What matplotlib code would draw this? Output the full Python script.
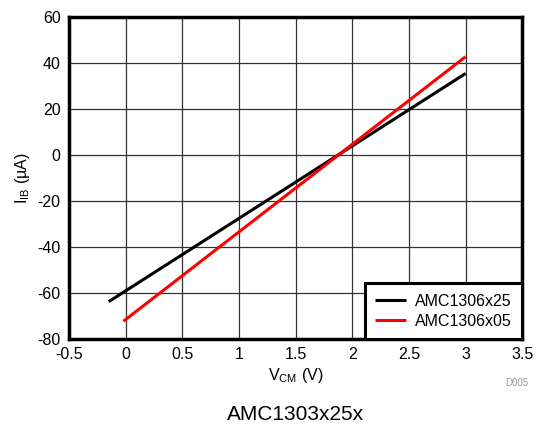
import matplotlib.pyplot as plt

plt.rcParams['font.family'] = ['Liberation Sans', 'DejaVu Sans']
plt.rcParams['axes.unicode_minus'] = False

# Data
vcm_x25 = [-0.15, 3.0]
iib_x25 = [-63.8, 35.5]
vcm_x05 = [-0.02, 3.0]
iib_x05 = [-72.3, 42.8]

xticks = [-0.5, 0, 0.5, 1, 1.5, 2, 2.5, 3, 3.5]
xticklabels = ['-0.5', '0', '0.5', '1', '1.5', '2', '2.5', '3', '3.5']
yticks = [-80, -60, -40, -20, 0, 20, 40, 60]

fig = plt.figure(figsize=(5.48, 4.29), dpi=100)
ax = fig.add_axes([0.126, 0.21, 0.827, 0.75])

ax.plot(vcm_x25, iib_x25, color='black', lw=2.2, label='AMC1306x25', solid_capstyle='butt', zorder=3)
ax.plot(vcm_x05, iib_x05, color='#ff0000', lw=2.2, label='AMC1306x05', solid_capstyle='butt', zorder=3)

ax.set_xlim(-0.5, 3.5)
ax.set_ylim(-80, 60)
ax.set_xticks(xticks)
ax.set_xticklabels(xticklabels)
ax.set_yticks(yticks)
ax.tick_params(length=0, labelsize=11.5, pad=6)
ax.grid(True, color='#333333', lw=0.9)
ax.set_axisbelow(True)
for s in ax.spines.values():
    s.set_linewidth(2.5)

ax.set_xlabel('V$_{\\mathregular{CM}}$ (V)', fontsize=11.5, labelpad=3)
ax.set_ylabel('I$_{\\mathregular{IB}}$ (µA)', fontsize=11.5, labelpad=4)

leg = ax.legend(loc='lower right', fontsize=11.5, frameon=True, fancybox=False,
                borderaxespad=0, handlelength=1.9, handletextpad=0.6,
                borderpad=0.65, labelspacing=0.3)
leg.get_frame().set_edgecolor('black')
leg.get_frame().set_linewidth(2.2)
leg.get_frame().set_alpha(1)

fig.text(0.965, 0.108, 'D005', fontsize=7, color='#999999', ha='right', va='center')
fig.text(0.54, 0.033, 'AMC1303x25x', fontsize=15, ha='center', va='center')

fig.savefig('out.png', dpi=100)
